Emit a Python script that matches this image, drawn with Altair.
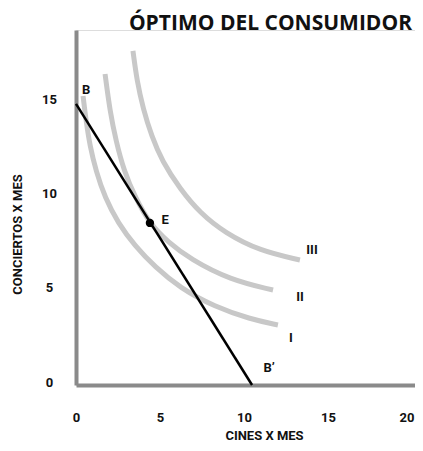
import altair as alt
import pandas as pd

# Indifference curves
curve_I_x = [0.42, 0.60, 0.83, 1.19, 1.73, 2.50, 3.51, 4.70, 6.19, 8.27, 10.36, 12.02]
curve_I_y = [15.37, 14.04, 12.71, 11.38, 9.95, 8.62, 7.39, 6.28, 5.16, 4.15, 3.51, 3.19]
curve_II_x = [1.73, 2.02, 2.38, 2.86, 3.51, 4.40, 5.48, 6.79, 9.17, 11.73]
curve_II_y = [16.54, 14.57, 12.98, 11.38, 10.00, 8.56, 7.61, 6.70, 5.59, 5.05]
curve_III_x = [3.39, 3.63, 4.00, 4.50, 5.12, 6.19, 7.38, 8.87, 10.95, 13.33]
curve_III_y = [17.77, 16.17, 14.68, 13.24, 11.91, 10.43, 9.15, 8.09, 7.13, 6.65]

# Budget line
budget_x = [0.0, 10.48]
budget_y = [14.95, 0.0]

# Optimum point
opt_x = [4.40]
opt_y = [8.62]

# Annotations
label_text = ["B", "E", "III", "II", "I", "B\u2019"]
label_x = [0.6, 5.3, 14.05, 13.33, 12.8, 11.5]
label_y = [15.7, 8.8, 7.2, 4.7, 2.5, 0.9]

x_ticks = [0, 5, 10, 15, 20]
y_ticks = [0, 5, 10, 15]

rows = []
for name, xs, ys in [("I", curve_I_x, curve_I_y), ("II", curve_II_x, curve_II_y), ("III", curve_III_x, curve_III_y)]:
    for i, (a, b) in enumerate(zip(xs, ys)):
        rows.append({"curve": name, "x": a, "y": b, "o": i})
curves_df = pd.DataFrame(rows)
budget_df = pd.DataFrame({"x": budget_x, "y": budget_y})
opt_df = pd.DataFrame({"x": opt_x, "y": opt_y})
labels_df = pd.DataFrame({"t": label_text, "x": label_x, "y": label_y})

xscale = alt.Scale(domain=[0, 20.18], nice=False, zero=False)
yscale = alt.Scale(domain=[0, 18.88], nice=False, zero=False)

xaxis = alt.Axis(
    title="CINES X MES", values=x_ticks, grid=False, ticks=False, tickSize=0,
    domainColor="#8a8a8a", domainWidth=4, labelPadding=26,
    labelAlign={"condition": {"test": "datum.value >= 20", "value": "right"}, "value": "center"},
    labelOffset={"condition": {"test": "datum.value >= 20", "value": 2}, "value": 0},
    labelFont="Roboto", labelFontSize=13, labelFontWeight="bold", labelColor="#111",
    titleFont="Roboto", titleFontSize=13, titleFontWeight="bold", titleColor="#111",
    titleX=188, titleY=50, titleBaseline="middle", titleAlign="center",
)
yaxis = alt.Axis(
    title="CONCIERTOS X MES", values=y_ticks, grid=False, ticks=False, tickSize=0,
    domainColor="#8a8a8a", domainWidth=4, labelPadding=27, labelAlign="center",
    labelOffset=-3,
    labelFont="Roboto", labelFontSize=13, labelFontWeight="bold", labelColor="#111",
    titleFont="Roboto", titleFontSize=13, titleFontWeight="bold", titleColor="#111",
    titleX=-59, titleY=204, titleBaseline="middle", titleAlign="center", titleAngle=-90,
)

curves = alt.Chart(curves_df).mark_line(
    color="#c8c8c8", strokeWidth=5, interpolate="basis"
).encode(
    x=alt.X("x:Q", scale=xscale, axis=xaxis),
    y=alt.Y("y:Q", scale=yscale, axis=yaxis),
    detail="curve:N",
    order="o:Q",
)

budget = alt.Chart(budget_df).mark_line(color="black", strokeWidth=2.5).encode(
    x=alt.X("x:Q", scale=xscale),
    y=alt.Y("y:Q", scale=yscale),
)

opt = alt.Chart(opt_df).mark_circle(color="black", size=70, opacity=1).encode(
    x=alt.X("x:Q", scale=xscale),
    y=alt.Y("y:Q", scale=yscale),
)

labels = alt.Chart(labels_df).mark_text(
    font="Roboto", fontSize=13, fontWeight="bold", color="#111",
    align="center", baseline="middle",
).encode(
    x=alt.X("x:Q", scale=xscale),
    y=alt.Y("y:Q", scale=yscale),
    text="t:N",
)

chart = alt.layer(curves, budget, opt, labels).properties(
    width=339, height=355,
    title=alt.TitleParams(
        "ÓPTIMO DEL CONSUMIDOR", anchor="end", font="Open Sans", fontSize=21,
        fontWeight="bold", color="#111", dx=-3, offset=-4,
    ),
    autosize=alt.AutoSizeParams(type="none"),
    padding={"left": 68, "top": 22, "right": 0, "bottom": 58},
).configure_view(stroke=None).configure(background="white")

chart.save("out.html", embed_options={"renderer": "svg", "actions": False})
